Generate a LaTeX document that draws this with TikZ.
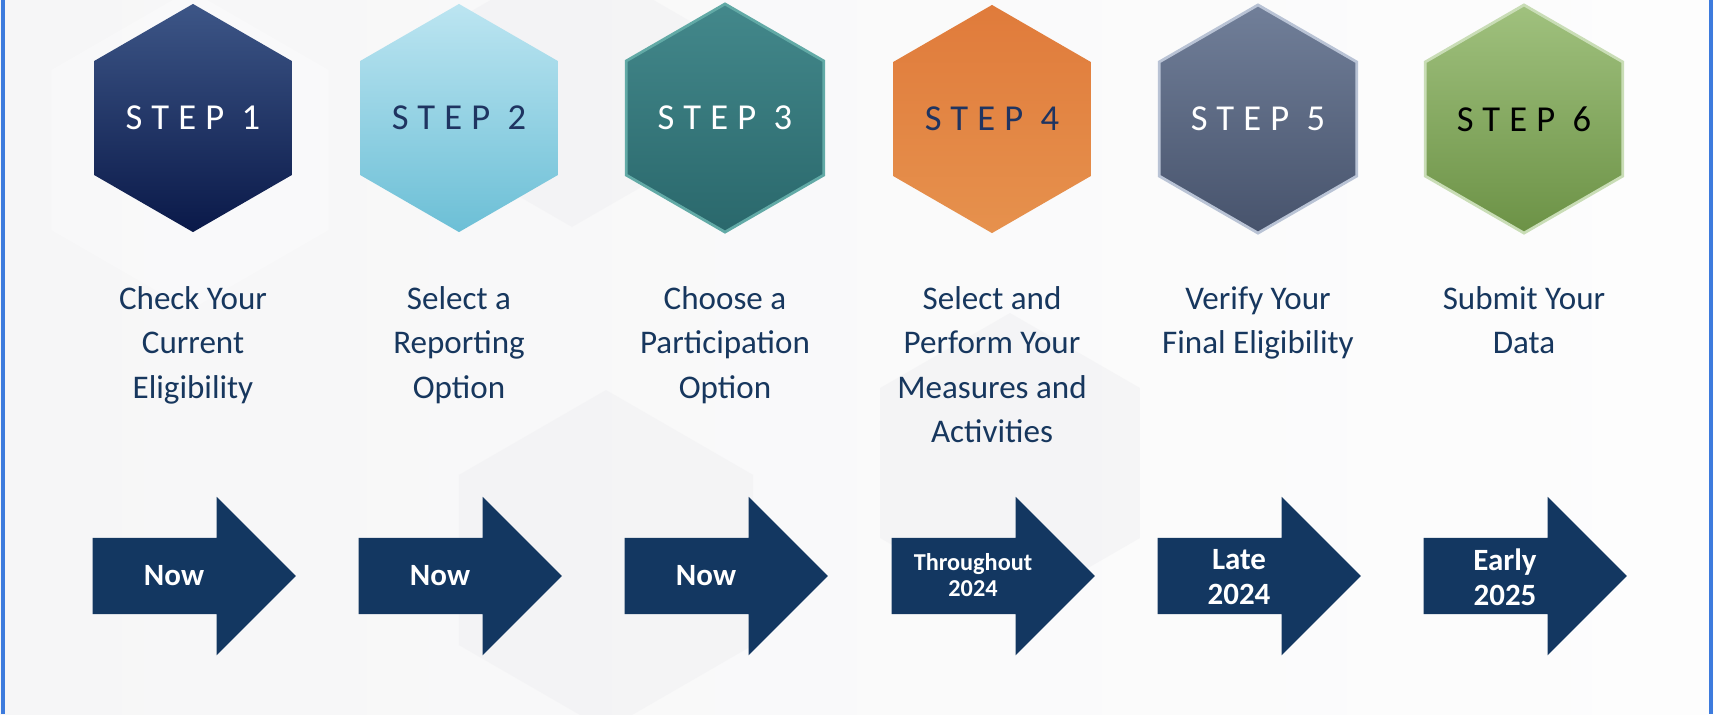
\documentclass[tikz,border=0pt]{standalone}
\usepackage{fontspec}
\setmainfont{Carlito}
\usepackage{tikz}
\usetikzlibrary{shapes.geometric, shapes.arrows, positioning}
\definecolor{cmsnavy}{HTML}{17375E}
\definecolor{arrowblue}{HTML}{133761}
\definecolor{edgeblue}{HTML}{3D7BDD}
\definecolor{bgleft}{HTML}{F6F6F7}
\definecolor{bgright}{HTML}{FDFDFD}
\definecolor{facetgrey}{HTML}{F1F1F3}
\definecolor{steplabel}{HTML}{1F3461}
% hexagon colours, light top and dark bottom
\definecolor{hexAtop}{HTML}{3D5687}
\definecolor{hexAbot}{HTML}{0A1949}
\definecolor{hexBtop}{HTML}{BCE5F1}
\definecolor{hexBbot}{HTML}{6CBFD6}
\definecolor{hexCtop}{HTML}{43888B}
\definecolor{hexCbot}{HTML}{2A686C}
\definecolor{hexCedge}{HTML}{62AAA6}
\definecolor{hexDtop}{HTML}{E07B3B}
\definecolor{hexDbot}{HTML}{E6914D}
\definecolor{hexEtop}{HTML}{717F99}
\definecolor{hexEbot}{HTML}{47536C}
\definecolor{hexEedge}{HTML}{B9C3D5}
\definecolor{hexFtop}{HTML}{A0C17E}
\definecolor{hexFbot}{HTML}{6C9246}
\definecolor{hexFedge}{HTML}{C9DDB6}
\newcommand{\spaced}[1]{{\addfontfeature{LetterSpace=25}#1}}

\begin{document}
\begin{tikzpicture}[x=0.01cm, y=-0.01cm,
  hexstep/.style={regular polygon, regular polygon sides=6, shape border rotate=30,
    minimum size=2.28cm, inner sep=0pt, shading angle=35,
    font=\fontsize{10.4}{12}\selectfont},
  stepinfo/.style={anchor=north, align=center, inner sep=0pt, text=cmsnavy,
    font=\fontsize{9.4}{12.6}\selectfont},
  whenarrow/.style={single arrow, anchor=tail, fill=arrowblue,
    inner xsep=0pt, inner ysep=0.375cm,
    minimum height=2.03cm, single arrow head extend=0.41cm, single arrow tip angle=90},
  whentext/.style={align=center, inner sep=0pt, text=white,
    font=\fontsize{8.8}{9.8}\selectfont\bfseries}]
\useasboundingbox (0,0) rectangle (1714,714);

% background with faint facets
\shade[left color=bgleft, right color=bgright] (0,0) rectangle (1714,714);
\fill[white, opacity=0.3] (190,150) +(30:160) -- +(90:160) -- +(150:160) -- +(210:160) -- +(270:160) -- +(330:160) -- cycle;
\fill[facetgrey, opacity=0.6] (572,90) +(30:137) -- +(90:137) -- +(150:137) -- +(210:137) -- +(270:137) -- +(330:137) -- cycle;
\fill[facetgrey, opacity=0.6] (606,560) +(30:170) -- +(90:170) -- +(150:170) -- +(210:170) -- +(270:170) -- +(330:170) -- cycle;
\fill[facetgrey, opacity=0.6] (1010,463) +(30:150) -- +(90:150) -- +(150:150) -- +(210:150) -- +(270:150) -- +(330:150) -- cycle;
\draw[edgeblue, line width=1pt] (3,0) -- (3,714);
\draw[edgeblue, line width=1pt] (1711,0) -- (1711,714);

% Step 1
\node[hexstep, top color=hexAtop, bottom color=hexAbot, text=white] (hex1) at (193,118) {\spaced{STEP 1}};
\node[stepinfo] (info1) at (193,286) {Check Your\\Current\\Eligibility};
\node[whenarrow] (arrow1) at (92,576) {};
\node[whentext] (when1) at (174,576) {Now};

% Step 2
\node[hexstep, top color=hexBtop, bottom color=hexBbot, text=steplabel] (hex2) at (459,118) {\spaced{STEP 2}};
\node[stepinfo] (info2) at (459,286) {Select a\\Reporting\\Option};
\node[whenarrow] (arrow2) at (358,576) {};
\node[whentext] (when2) at (440,576) {Now};

% Step 3
\node[hexstep, top color=hexCtop, bottom color=hexCbot, draw=hexCedge, line width=0.8pt, text=white] (hex3) at (725,118) {\spaced{STEP 3}};
\node[stepinfo] (info3) at (725,286) {Choose a\\Participation\\Option};
\node[whenarrow] (arrow3) at (624,576) {};
\node[whentext] (when3) at (706,576) {Now};

% Step 4
\node[hexstep, top color=hexDtop, bottom color=hexDbot, text=steplabel] (hex4) at (992,119) {\spaced{STEP 4}};
\node[stepinfo] (info4) at (992,286) {Select and\\Perform Your\\Measures and\\Activities};
\node[whenarrow] (arrow4) at (891,576) {};
\node[whentext, font=\fontsize{6.9}{7.6}\selectfont\bfseries] (when4) at (973,575) {Throughout\\2024};

% Step 5
\node[hexstep, top color=hexEtop, bottom color=hexEbot, draw=hexEedge, line width=0.8pt, text=white] (hex5) at (1258,119) {\spaced{STEP 5}};
\node[stepinfo] (info5) at (1258,286) {Verify Your\\Final Eligibility};
\node[whenarrow] (arrow5) at (1157,576) {};
\node[whentext] (when5) at (1239,577) {Late\\2024};

% Step 6
\node[hexstep, top color=hexFtop, bottom color=hexFbot, draw=hexFedge, line width=0.8pt, text=black] (hex6) at (1524,119) {\spaced{STEP 6}};
\node[stepinfo] (info6) at (1524,286) {Submit Your\\Data};
\node[whenarrow] (arrow6) at (1423,576) {};
\node[whentext] (when6) at (1505,577) {Early\\2025};
\end{tikzpicture}
\end{document}
